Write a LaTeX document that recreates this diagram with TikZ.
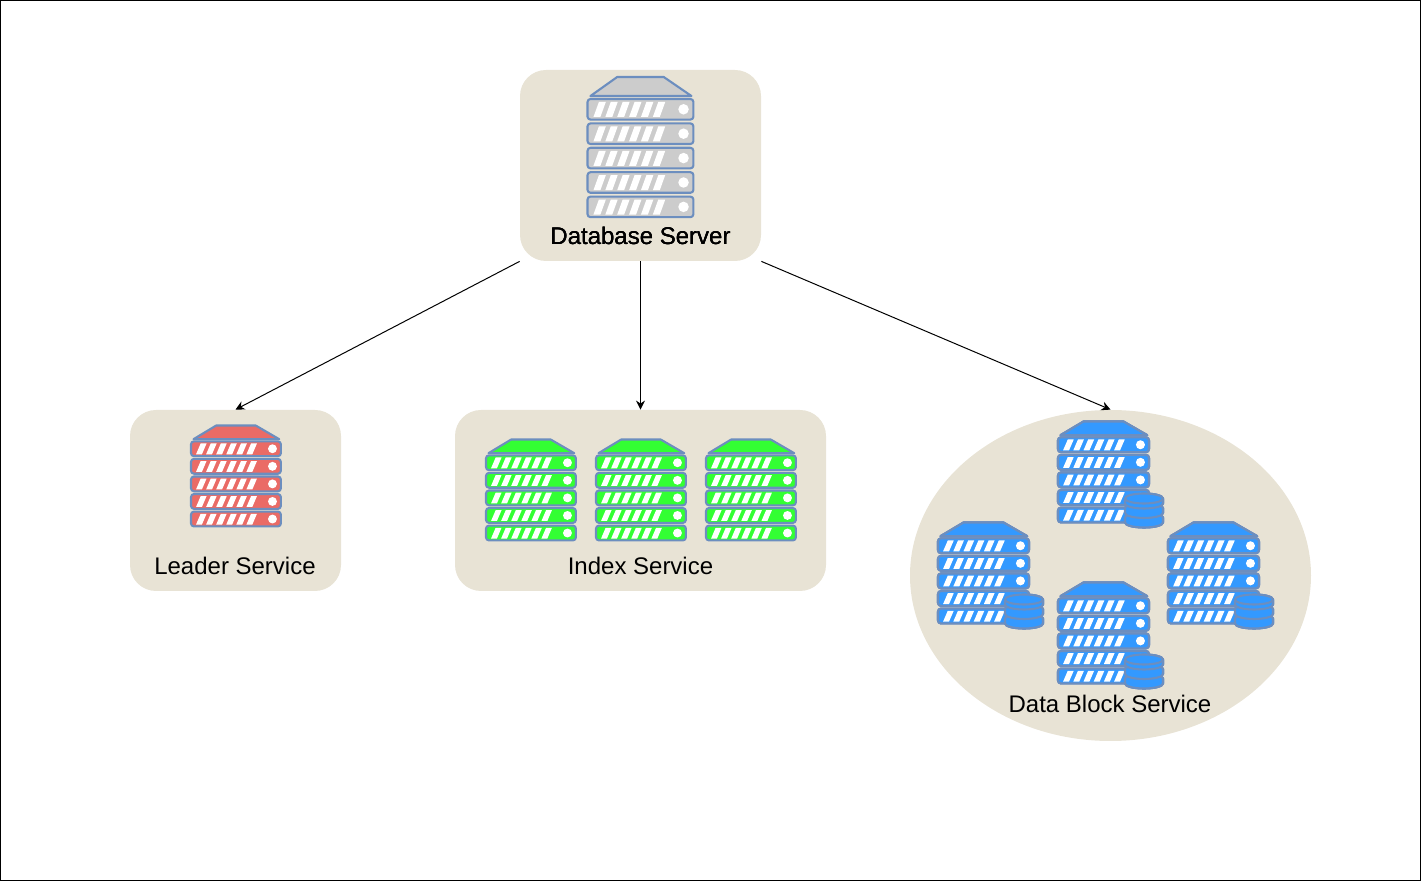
\documentclass[tikz,border=0pt]{standalone}
\usepackage{fontspec}
\setmainfont{Liberation Sans}
\usetikzlibrary{arrows.meta,shapes.geometric}
\definecolor{panel}{HTML}{E8E3D5}
\definecolor{rackline}{HTML}{6C8EBF}
\definecolor{rackgray}{HTML}{CCCCCC}
\definecolor{rackred}{HTML}{EA6B66}
\definecolor{rackgreen}{HTML}{33FF33}
\definecolor{rackblue}{HTML}{3399FF}
\tikzset{
	box/.style={fill=panel,rounded corners=13pt,inner sep=0pt},
	caption/.style={font=\fontsize{12}{14}\selectfont,inner sep=0pt},
	link/.style={-{Stealth[length=4.5pt,width=4.5pt]},line width=0.5pt},
	rackpart/.style={draw=rackline,line width=1.05pt,line join=round}
}
% one rack: x, y of top left corner, x scale, y scale, colour
\newcommand{\rack}[5]{
	\begin{scope}[shift={(#1,#2)},xscale=#3,yscale=#4]
		\draw [rackpart,fill=#5] (3,19) -- (30,0) -- (77,0) -- (105,19) -- cycle;
		\foreach \row in {0,...,4} {
			\draw [rackpart,fill=#5,rounded corners=1.5pt] (0,22+24.4*\row) rectangle (107,42.6+24.4*\row);
			\foreach \bar in {0,...,5}
				\fill [white] (6+12*\bar,40+24.4*\row) -- (13+12*\bar,40+24.4*\row) -- (18.5+12*\bar,25+24.4*\row) -- (11.5+12*\bar,25+24.4*\row) -- cycle;
			\node [circle,fill=white,inner sep=0pt,minimum size=#3*5.3pt] at (97,32.3+24.4*\row) {};
		}
	\end{scope}
}
% disk stack next to a blue rack
\newcommand{\disks}[2]{
	\begin{scope}[shift={(#1,#2)}]
		\foreach \level in {19,9.5,0}
			\draw [rackpart,fill=rackblue] (0,5+\level) -- (0,\level+10) arc[start angle=180,end angle=360,x radius=9.5pt,y radius=2.5pt] -- (38,5+\level) arc[start angle=0,end angle=180,x radius=9.5pt,y radius=2.5pt] -- cycle;
		\draw [rackpart] (0,5) arc[start angle=180,end angle=360,x radius=9.5pt,y radius=2.5pt];
	\end{scope}
}
\begin{document}
\begin{tikzpicture}[x=0.5pt,y=-0.5pt]
	\useasboundingbox (0,0) rectangle (1421,881);
	\draw [line width=0.5pt] (0.5,0.5) rectangle (1420.5,880.5);
	%panels
	\node [box,minimum width=120.5pt,minimum height=95.5pt] (dbserver) at (640.5,165.5) {};
	\node [box,minimum width=105.5pt,minimum height=90.5pt] (leader) at (235.5,500.5) {};
	\node [box,minimum width=185.5pt,minimum height=90.5pt] (index) at (640.5,500.5) {};
	\node [ellipse,fill=panel,inner sep=0pt,minimum width=200.5pt,minimum height=165.5pt] (datablock) at (1110.5,575.5) {};
	%links
	\draw [link] (dbserver.south west) -- (leader.north);
	\draw [link] (dbserver.south) -- (index.north);
	\draw [link] (dbserver.south east) -- (datablock.north);
	%racks
	\rack{587.5}{77}{0.99}{1}{rackgray}
	\rack{191}{425.5}{0.84}{0.72}{rackred}
	\foreach \xpos in {486,596,706}
		\rack{\xpos}{439.5}{0.84}{0.72}{rackgreen}
	\foreach \xpos/\ypos in {1058/421.5,938/522.5,1168/522.5,1058/582.5} {
		\rack{\xpos}{\ypos}{0.85}{0.72}{rackblue}
		\disks{\xpos+67}{\ypos+72}
	}
	%labels
	\node [caption] (dblabel) at (640.5,236) {Database Server};
	\node [caption] (leaderlabel) at (235,566) {Leader Service};
	\node [caption] (indexlabel) at (640.5,566) {Index Service};
	\node [caption] (blocklabel) at (1110,704) {Data Block Service};
\end{tikzpicture}
\end{document}
